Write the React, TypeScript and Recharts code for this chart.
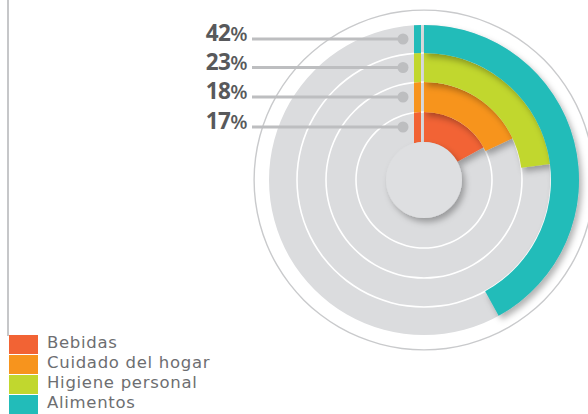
import { PieChart, Pie, Cell } from 'recharts';

const categories = ['Bebidas', 'Cuidado del hogar', 'Higiene personal', 'Alimentos'];
const shares = [17, 18, 23, 42];
const colors = ['#f26334', '#f7941d', '#c1d72e', '#22bcb9'];

// ring geometry (inner -> outer), px
const ringInner = [38, 68, 98, 127];
const ringOuter = [68, 98, 127, 155];

const CX = 424;
const CY = 180;
const W = 588;
const H = 414;

const renderLabel = (p: any) => {
  if (p.index !== 0) return null;
  const y = p.cy - (p.innerRadius + p.outerRadius) / 2;
  return (
    <g>
      <line x1={p.cx - 172} x2={p.cx - 21} y1={y} y2={y} stroke="#bdbec0" strokeWidth={3} />
      <circle cx={p.cx - 21} cy={y} r={5.5} fill="#bdbec0" />
      <text
        x={p.cx - 177}
        y={y + 2}
        textAnchor="end"
        fill="#58595b"
        fontFamily="'Open Sans', sans-serif"
        fontWeight={700}
        fontSize={22.5}
        letterSpacing={-0.6}
      >
        {p.value}
        <tspan fontSize={20} fontWeight={600}>%</tspan>
      </text>
    </g>
  );
};

const App = () => {
  return (
    <div style={{ position: 'fixed', left: 0, top: 0, width: W, height: H, background: '#fff' }}>
      <div style={{ position: 'absolute', left: 7, top: 0, width: 1.5, height: 336, background: '#c6c7c9' }} />
      <PieChart width={W} height={H} margin={{ top: 0, right: 0, bottom: 0, left: 0 }}>
        <defs>
          <filter id="shadow" x="-20%" y="-20%" width="140%" height="140%">
            <feDropShadow dx={3} dy={4} stdDeviation={3} floodColor="#000" floodOpacity={0.3} />
          </filter>
          <clipPath id="sliver">
            <rect x={CX - 10} y={0} width={7} height={H} />
          </clipPath>
        </defs>

        {/* outer thin circle */}
        <Pie data={[{ value: 1 }]} dataKey="value" cx={CX} cy={CY} innerRadius={169.2} outerRadius={170.6}
          startAngle={90} endAngle={-270} stroke="none" fill="#c9cacc" isAnimationActive={false} />
        {/* gray disc */}
        <Pie data={[{ value: 1 }]} dataKey="value" cx={CX} cy={CY} innerRadius={0} outerRadius={155}
          startAngle={90} endAngle={-270} stroke="none" fill="#dbdcde" isAnimationActive={false} />
        {/* white ring separators */}
        {ringInner.slice(1).map((r) => (
          <Pie key={'sep' + r} data={[{ value: 1 }]} dataKey="value" cx={CX} cy={CY} innerRadius={r - 0.8}
            outerRadius={r + 0.8} startAngle={90} endAngle={-270} stroke="none" fill="#ffffff"
            isAnimationActive={false} />
        ))}

        {/* value rings */}
        {shares.map((v, i) => (
          <Pie
            key={categories[i]}
            data={[{ name: categories[i], value: v }, { name: 'rest', value: 100 - v }]}
            dataKey="value"
            cx={CX}
            cy={CY}
            innerRadius={ringInner[i]}
            outerRadius={ringOuter[i]}
            startAngle={90}
            endAngle={-270}
            stroke="none"
            label={renderLabel}
            labelLine={false}
            isAnimationActive={false}
          >
            <Cell fill={colors[i]} filter="url(#shadow)" />
            <Cell fill="transparent" />
          </Pie>
        ))}

        {/* small lead strip left of the start */}
        {shares.map((v, i) => (
          <Pie
            key={'lead' + categories[i]}
            data={[{ value: 1 }]}
            dataKey="value"
            cx={CX}
            cy={CY}
            innerRadius={ringInner[i]}
            outerRadius={ringOuter[i]}
            startAngle={120}
            endAngle={90}
            stroke="none"
            isAnimationActive={false}
          >
            <Cell fill={colors[i]} clipPath="url(#sliver)" />
          </Pie>
        ))}

        {/* center disc */}
        <Pie data={[{ value: 1 }]} dataKey="value" cx={CX} cy={CY} innerRadius={0} outerRadius={38}
          startAngle={90} endAngle={-270} stroke="none" isAnimationActive={false}>
          <Cell fill="#dedfe1" filter="url(#shadow)" />
        </Pie>
      </PieChart>

      <div style={{ position: 'absolute', left: 9, top: 335 }}>
        {categories.map((c, i) => (
          <div key={c} style={{ display: 'flex', alignItems: 'flex-start', height: 20 }}>
            <div style={{ width: 29, height: 19, background: colors[i] }} />
            <div
              style={{
                marginLeft: 9,
                position: 'relative',
                top: -2,
                fontFamily: "'DejaVu Sans', sans-serif",
                fontSize: 16.5,
                lineHeight: '20px',
                color: '#6d6e71',
                letterSpacing: 0.7,
              }}
            >
              {c}
            </div>
          </div>
        ))}
      </div>
    </div>
  );
};

export default App;
